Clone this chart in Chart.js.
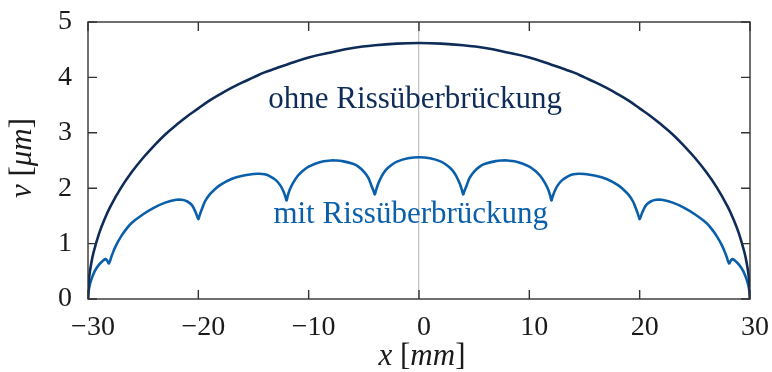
<!DOCTYPE html>
<html>
<head>
<meta charset="utf-8">
<script src="https://cdn.jsdelivr.net/npm/chart.js@4"></script>
<style>
  html, body { margin: 0; padding: 0; background: #fff; }
  #wrap { width: 772px; height: 372px; }
</style>
</head>
<body>
<div id="wrap"><canvas id="crack-canvas"></canvas></div>
<script>
// crack opening v [um] along x [mm]
const xTicks = [-30, -20, -10, 0, 10, 20, 30];
const yTicks = [0, 1, 2, 3, 4, 5];

// ohne Rissueberbrueckung
const xOhne = [-30, -29.9, -29.7, -29.5, -29, -28.5, -28, -27, -26, -25, -24, -23, -22, -21, -20, -19, -18, -17, -16, -15,
  -14, -13, -12, -10, -8, -6, -4, -2, 0,
  2, 4, 6, 8, 10, 12, 13, 14, 15, 16, 17, 18, 19, 20, 21, 22, 23, 24, 25, 26,
  27, 28, 28.5, 29, 29.5, 29.7, 29.9, 30];
const vOhne = [0, 0.38, 0.65, 0.84, 1.18, 1.44, 1.66, 2.01, 2.30, 2.55, 2.77, 2.97, 3.14, 3.30, 3.44, 3.58, 3.70, 3.81, 3.91, 4.00,
  4.09, 4.16, 4.23, 4.36, 4.45, 4.53, 4.58, 4.61, 4.62,
  4.61, 4.58, 4.53, 4.45, 4.36, 4.23, 4.16, 4.09, 4.00, 3.91, 3.81, 3.70, 3.58, 3.44, 3.30, 3.14, 2.97, 2.77, 2.55, 2.30,
  2.01, 1.66, 1.44, 1.18, 0.84, 0.65, 0.38, 0];

// mit Rissueberbrueckung
const xMit = [-30, -29.9, -29.7, -29.4, -29, -28.6, -28.4, -28.25, -28.1, -27.85, -27.5, -27, -26.5, -26, -25, -24, -23, -22, -21.5, -21,
  -20.6, -20.3, -20.1, -20, -19.9, -19.7, -19.4, -19, -18.5, -18, -17, -16, -15, -14.5, -14, -13.5, -13, -12.6, -12.3, -12.1,
  -12, -11.9, -11.7, -11.4, -11, -10.5, -10, -9, -8, -7.5, -7, -6, -5.5, -5, -4.6, -4.3, -4.1, -4, -3.9, -3.7,
  -3.4, -3, -2.5, -2, -1, 0,
  1, 2, 2.5, 3, 3.4, 3.7, 3.9, 4, 4.1, 4.3, 4.6, 5, 5.5, 6, 7, 7.5, 8, 9, 10, 10.5,
  11, 11.4, 11.7, 11.9, 12, 12.1, 12.3, 12.6, 13, 13.5, 14, 14.5, 15, 16, 17, 18, 18.5, 19, 19.4, 19.7,
  19.9, 20, 20.1, 20.3, 20.6, 21, 21.5, 22, 23, 24, 25, 26, 26.5, 27, 27.5, 27.85, 28.1, 28.25, 28.4, 28.6,
  29, 29.4, 29.7, 29.9, 30];
const vMit = [0, 0.2, 0.35, 0.5, 0.62, 0.70, 0.72, 0.69, 0.645, 0.78, 0.95, 1.13, 1.27, 1.38, 1.53, 1.65, 1.74, 1.79, 1.79, 1.76,
  1.70, 1.59, 1.49, 1.44, 1.50, 1.61, 1.76, 1.88, 1.98, 2.06, 2.165, 2.225, 2.255, 2.26, 2.25, 2.215, 2.15, 2.06, 1.95, 1.84,
  1.78, 1.86, 1.98, 2.10, 2.22, 2.32, 2.39, 2.47, 2.50, 2.50, 2.49, 2.44, 2.39, 2.30, 2.19, 2.04, 1.94, 1.89, 1.96, 2.08,
  2.21, 2.33, 2.42, 2.48, 2.54, 2.56,
  2.54, 2.48, 2.42, 2.33, 2.21, 2.08, 1.96, 1.89, 1.94, 2.04, 2.19, 2.30, 2.39, 2.44, 2.49, 2.50, 2.50, 2.47, 2.39, 2.32,
  2.22, 2.10, 1.98, 1.86, 1.78, 1.84, 1.95, 2.06, 2.15, 2.215, 2.25, 2.26, 2.255, 2.225, 2.165, 2.06, 1.98, 1.88, 1.76, 1.61,
  1.50, 1.44, 1.49, 1.59, 1.70, 1.76, 1.79, 1.79, 1.74, 1.65, 1.53, 1.38, 1.27, 1.13, 0.95, 0.78, 0.645, 0.69, 0.72, 0.70,
  0.62, 0.5, 0.35, 0.2, 0];

const navy = '#0f2b58';
const blue = '#0a5fab';
const serif = "'Liberation Serif', 'DejaVu Serif', serif";

function pts(xs, ys){
  return xs.map((x, i) => ({x: x, y: ys[i]}));
}

// frame, inward ticks, axis titles and curve labels
const decor = {
  id: 'decor',
  afterDatasetsDraw(chart){
    const ctx = chart.ctx;
    const a = chart.chartArea;
    const sx = chart.scales.x, sy = chart.scales.y;
    const tl = 9;
    ctx.save();
    ctx.strokeStyle = '#333';
    ctx.lineWidth = 1.4;
    ctx.beginPath();
    xTicks.forEach(function(t){
      const px = sx.getPixelForValue(t);
      ctx.moveTo(px, a.bottom); ctx.lineTo(px, a.bottom - tl);
      ctx.moveTo(px, a.top); ctx.lineTo(px, a.top + tl);
    });
    yTicks.forEach(function(t){
      const py = sy.getPixelForValue(t);
      ctx.moveTo(a.left, py); ctx.lineTo(a.left + tl, py);
      ctx.moveTo(a.right, py); ctx.lineTo(a.right - tl, py);
    });
    ctx.stroke();
    ctx.strokeRect(a.left, a.top, a.right - a.left, a.bottom - a.top);

    // curve labels
    ctx.textAlign = 'center';
    ctx.textBaseline = 'alphabetic';
    ctx.font = `31px ${serif}`;
    ctx.fillStyle = navy;
    ctx.fillText('ohne Rissüberbrückung', sx.getPixelForValue(-0.35), sy.getPixelForValue(3.45));
    ctx.fillStyle = blue;
    ctx.fillText('mit Rissüberbrückung', sx.getPixelForValue(-0.75), sy.getPixelForValue(1.37));

    // axis titles: italic symbols, upright brackets
    function mixed(parts, cx, cy){
      let w = 0;
      parts.forEach(function(p){ ctx.font = p[1] + ` 31px ${serif}`; w += ctx.measureText(p[0]).width; });
      let x = cx - w / 2;
      ctx.textAlign = 'left';
      parts.forEach(function(p){
        ctx.font = p[1] + ` 31px ${serif}`;
        ctx.fillText(p[0], x, cy);
        x += ctx.measureText(p[0]).width;
      });
    }
    ctx.fillStyle = '#1a1a1a';
    mixed([['x', 'italic'], [' [', 'normal'], ['mm', 'italic'], [']', 'normal']], 422, 365);
    ctx.save();
    ctx.translate(31, 158);
    ctx.rotate(-Math.PI / 2);
    mixed([['v', 'italic'], [' [', 'normal'], ['μm', 'italic'], [']', 'normal']], 0, 0);
    ctx.restore();
    ctx.restore();
  }
};

const chart = new Chart(document.getElementById('crack-canvas'), {
  type: 'line',
  data: {
    datasets: [{
      label: 'ohne Rissüberbrückung',
      data: pts(xOhne, vOhne),
      borderColor: navy,
      borderWidth: 2.6,
      pointRadius: 0,
      tension: 0.4
    }, {
      label: 'mit Rissüberbrückung',
      data: pts(xMit, vMit),
      borderColor: blue,
      borderWidth: 2.6,
      pointRadius: 0,
      tension: 0.4
    }]
  },
  options: {
    responsive: true,
    maintainAspectRatio: false,
    animation: false,
    layout: { padding: { top: 22, right: 22, left: 0, bottom: 0 } },
    plugins: { legend: false, tooltip: { enabled: false } },
    scales: {
      x: {
        type: 'linear',
        min: -30, max: 30,
        afterFit: function(s){ s.height = 73; s.paddingLeft = 0; s.paddingRight = 0; },
        afterBuildTicks: function(s){ s.ticks = xTicks.map(v => ({value: v})); },
        border: { display: false },
        grid: {
          drawTicks: false,
          lineWidth: 1.3,
          color: function(c){ return c.tick && c.tick.value === 0 ? '#c4c4c4' : 'rgba(0,0,0,0)'; }
        },
        ticks: {
          autoSkip: false, maxRotation: 0, padding: 12, labelOffset: 5,
          color: '#1a1a1a',
          font: { family: serif, size: 28 },
          callback: function(v){ return String(v).replace('-', '\u2212'); }
        }
      },
      y: {
        min: 0, max: 5,
        afterFit: function(s){ s.width = 88; s.paddingTop = 0; s.paddingBottom = 0; },
        afterBuildTicks: function(s){ s.ticks = yTicks.map(v => ({value: v})); },
        border: { display: false },
        grid: { display: false, drawTicks: false },
        ticks: {
          padding: 16,
          color: '#1a1a1a',
          font: { family: serif, size: 28 }
        }
      }
    }
  },
  plugins: [decor]
});
</script>
</body>
</html>
